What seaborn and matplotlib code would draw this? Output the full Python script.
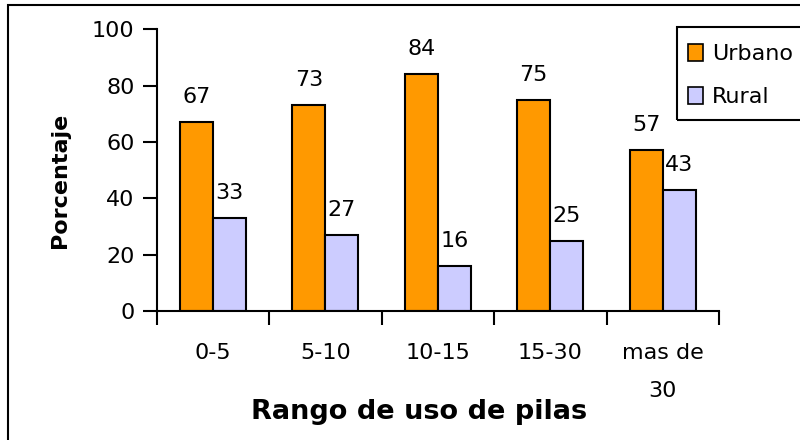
import matplotlib
matplotlib.use("Agg")
import matplotlib.pyplot as plt
import seaborn as sns
import pandas as pd
from matplotlib.patches import Rectangle

# Survey data: share of respondents by battery-usage range
rangos = ["0-5", "5-10", "10-15", "15-30", "mas de\n30"]
urbano = [67, 73, 84, 75, 57]
rural = [33, 27, 16, 25, 43]
series = ["Urbano", "Rural"]
colores = ["#FF9900", "#CCCCFF"]
yticks = [0, 20, 40, 60, 80, 100]

df = pd.DataFrame({
    "rango": rangos * 2,
    "zona": [series[0]] * len(rangos) + [series[1]] * len(rangos),
    "pct": urbano + rural,
})

sns.set_style("ticks")
plt.rcParams["font.family"] = ["DejaVu Sans"]
plt.rcParams.update({
    "text.color": "black", "axes.labelcolor": "black",
    "xtick.color": "black", "ytick.color": "black",
})

W, H = 800, 440
fig = plt.figure(figsize=(W / 100, H / 100), dpi=100)
fig.patch.set_facecolor("white")

x0, x1, y0, y1 = 156.7, 719.0, 311.0, 29.3
ax = fig.add_axes([x0 / W, 1 - y0 / H, (x1 - x0) / W, (y0 - y1) / H])

sns.barplot(
    data=df, x="rango", y="pct", hue="zona", order=rangos, hue_order=series,
    palette=colores, width=0.587, gap=0, saturation=1, errorbar=None,
    edgecolor="black", linewidth=1.5, ax=ax,
)

# value labels above each bar
for cont, vals in zip(ax.containers, [urbano, rural]):
    for bar, v in zip(cont, vals):
        ax.annotate(
            str(v), (bar.get_x() + bar.get_width() / 2, v),
            xytext=(0, 13.7), textcoords="offset points",
            ha="center", va="baseline", fontsize=16, color="black",
        )

ax.set_ylim(0, 100)
ax.set_xlim(-0.5, len(rangos) - 0.5)
ax.set_yticks(yticks)

# tick marks between categories, labels centred under each group
ax.set_xticks([i - 0.5 for i in range(len(rangos) + 1)])
ax.set_xticklabels([])
ax.set_xticks(range(len(rangos)), minor=True)
ax.set_xticklabels(rangos, minor=True)
for t in ax.get_xticklabels(minor=True):
    t.set_linespacing(2.1)

ax.tick_params(axis="x", which="minor", length=0, pad=23, labelsize=16)
ax.tick_params(axis="x", which="major", length=10, width=1.5, direction="out")
ax.tick_params(axis="y", length=10, width=1.5, pad=6, labelsize=16, direction="out")

for s in ["top", "right"]:
    ax.spines[s].set_visible(False)
for s in ["left", "bottom"]:
    ax.spines[s].set_linewidth(1.5)
    ax.spines[s].set_color("black")

ax.set_xlabel("Rango de uso de pilas", fontsize=19.5, fontweight="bold")
ax.xaxis.set_label_coords((419.5 - x0) / (x1 - x0), -(399 - y0) / (y0 - y1))
ax.set_ylabel("Porcentaje", fontsize=16, fontweight="bold")
ax.yaxis.set_label_coords((70 - x0) / (x1 - x0), (y0 - 180) / (y0 - y1))

sns.move_legend(
    ax, loc="upper left", bbox_to_anchor=(688 / W, 1 - 44 / H),
    bbox_transform=fig.transFigure, title=None, frameon=False,
    fontsize=16, handlelength=0.68, handleheight=0.77, handletextpad=0.4,
    labelspacing=1.05, borderpad=0, borderaxespad=0,
)
leg = ax.get_legend()
for h in leg.legend_handles:
    h.set_edgecolor("black")
    h.set_linewidth(1.2)

# legend box, running off the right edge
fig.patches.append(Rectangle(
    (676.7 / W, 1 - 120 / H), 0.3, (120 - 26.7) / H, transform=fig.transFigure,
    fill=False, edgecolor="black", linewidth=1.5,
))

# chart-area border
fig.patches.append(Rectangle(
    (8 / W, -0.2), 1.2, 1.2 - 5 / H, transform=fig.transFigure,
    fill=False, edgecolor="black", linewidth=1.5,
))

fig.savefig("out.png", dpi=100, facecolor="white")
